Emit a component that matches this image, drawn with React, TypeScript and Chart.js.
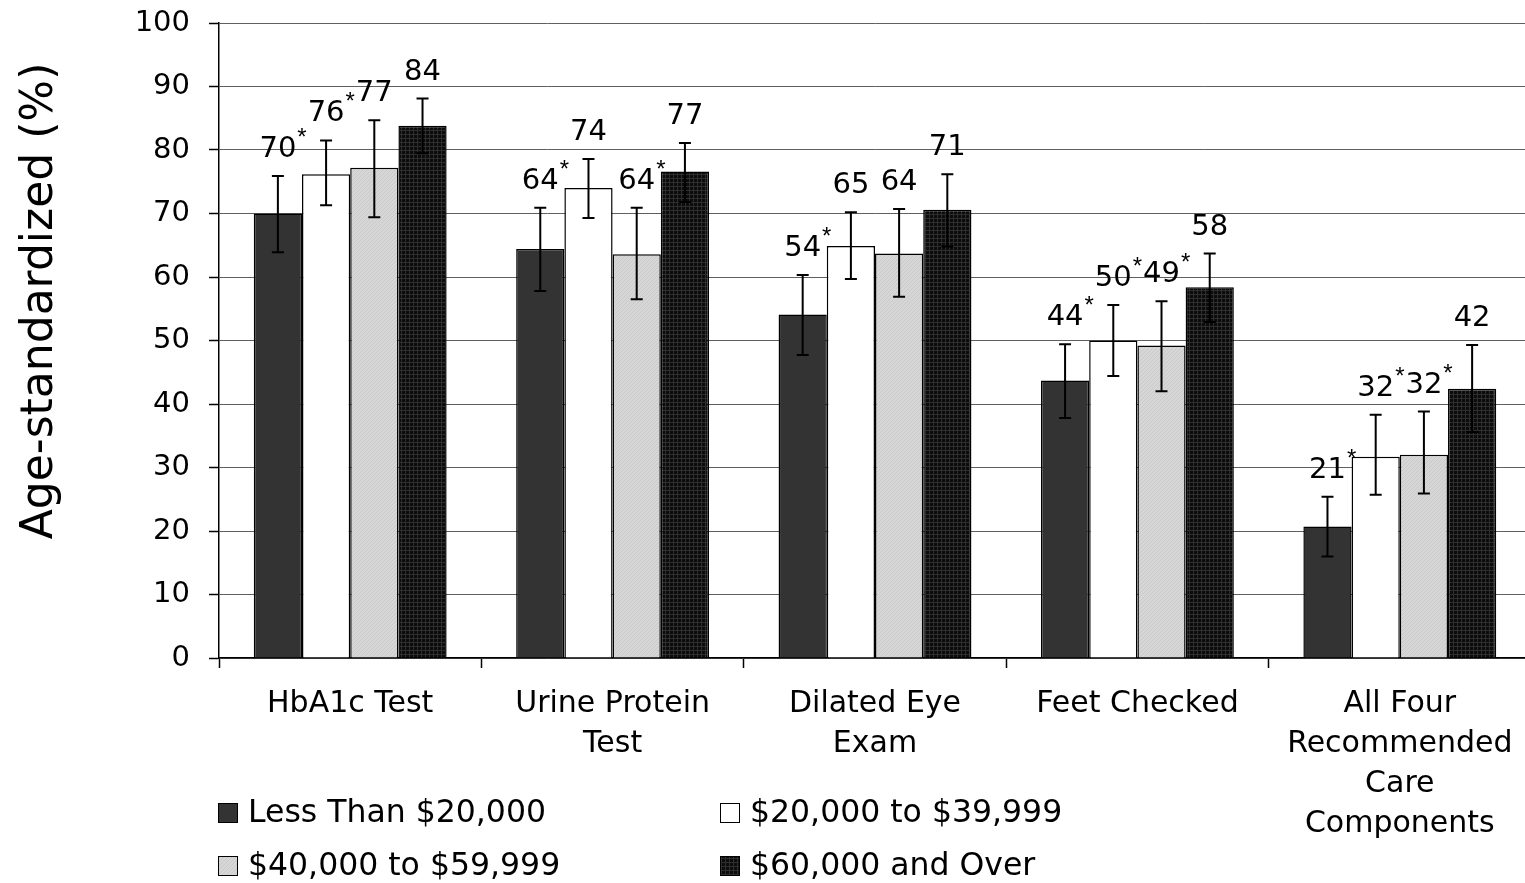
import { useEffect, useRef } from 'react';
import { Chart, registerables } from 'chart.js';

Chart.register(...registerables);

const FONT = "'DejaVu Sans', 'Liberation Sans', Arial, sans-serif";

const categories = [
  ['HbA1c Test'],
  ['Urine Protein', 'Test'],
  ['Dilated Eye', 'Exam'],
  ['Feet Checked'],
  ['All Four', 'Recommended', 'Care', 'Components'],
];

const seriesNames = ['Less Than $20,000', '$20,000 to $39,999', '$40,000 to $59,999', '$60,000 and Over'];

const under20k = [70.0, 64.4, 54.1, 43.7, 20.7];
const under20kLow = [63.9, 57.8, 47.7, 37.8, 16.0];
const under20kHigh = [75.9, 70.9, 60.3, 49.4, 25.4];
const under20kStar = [true, true, true, true, true];

const from20k = [76.2, 74.0, 64.9, 50.0, 31.7];
const from20kLow = [71.3, 69.3, 59.7, 44.4, 25.7];
const from20kHigh = [81.5, 78.6, 70.2, 55.6, 38.3];
const from20kStar = [true, false, false, true, true];

const from40k = [77.2, 63.6, 63.7, 49.2, 32.0];
const from40kLow = [69.4, 56.5, 56.9, 42.0, 25.9];
const from40kHigh = [84.7, 70.9, 70.7, 56.2, 38.8];
const from40kStar = [false, true, false, true, true];

const over60k = [83.8, 76.6, 70.6, 58.4, 42.4];
const over60kLow = [79.5, 71.8, 64.8, 52.9, 35.6];
const over60kHigh = [88.1, 81.1, 76.2, 63.7, 49.3];
const over60kStar = [false, false, false, false, false];

const yTicks = [0, 10, 20, 30, 40, 50, 60, 70, 80, 90, 100];

const values = [under20k, from20k, from40k, over60k];
const lows = [under20kLow, from20kLow, from40kLow, over60kLow];
const highs = [under20kHigh, from20kHigh, from40kHigh, over60kHigh];
const stars = [under20kStar, from20kStar, from40kStar, over60kStar];

function makePattern(size: number, base: string, dot: string, fn: (i: number, j: number) => boolean) {
  const c = document.createElement('canvas');
  c.width = size;
  c.height = size;
  const x = c.getContext('2d')!;
  x.fillStyle = base;
  x.fillRect(0, 0, size, size);
  x.fillStyle = dot;
  for (let i = 0; i < size; i++) {
    for (let j = 0; j < size; j++) {
      if (fn(i, j)) x.fillRect(i, j, 1, 1);
    }
  }
  return x.createPattern(c, 'repeat')!;
}

const annotPlugin = {
  id: 'annot',
  afterDatasetsDraw(chart: any) {
    const { ctx } = chart;
    const y = chart.scales.y;
    ctx.save();
    chart.data.datasets.forEach((_ds: any, di: number) => {
      const meta = chart.getDatasetMeta(di);
      meta.data.forEach((el: any, i: number) => {
        const hi = y.getPixelForValue(highs[di][i]);
        const lo = y.getPixelForValue(lows[di][i]);
        ctx.strokeStyle = '#000';
        ctx.lineWidth = 2;
        ctx.beginPath();
        ctx.moveTo(el.x, hi);
        ctx.lineTo(el.x, lo);
        ctx.moveTo(el.x - 6, hi);
        ctx.lineTo(el.x + 6, hi);
        ctx.moveTo(el.x - 6, lo);
        ctx.lineTo(el.x + 6, lo);
        ctx.stroke();
        ctx.fillStyle = '#000';
        ctx.font = `29px ${FONT}`;
        ctx.textAlign = 'center';
        ctx.textBaseline = 'alphabetic';
        ctx.fillText(String(Math.round(values[di][i])), el.x, hi - 19);
        if (stars[di][i]) {
          ctx.font = `24px 'Liberation Sans', Arial, sans-serif`;
          ctx.fillText('*', el.x + el.width / 2, hi - 45 + 14);
        }
      });
    });
    ctx.restore();
  },
  afterDraw(chart: any) {
    const { ctx, chartArea } = chart;
    ctx.save();
    // y-axis title
    ctx.fillStyle = '#000';
    ctx.font = `44px ${FONT}`;
    ctx.translate(52, chartArea.top + 278);
    ctx.rotate(-Math.PI / 2);
    ctx.textAlign = 'center';
    ctx.textBaseline = 'alphabetic';
    ctx.fillText('Age-standardized (%)', 0, 0);
    ctx.restore();

    // legend
    ctx.save();
    ctx.font = `31.5px ${FONT}`;
    ctx.textAlign = 'left';
    ctx.textBaseline = 'middle';
    const x0 = chartArea.left - 1;
    const colGap = 502;
    const rowY = [chartArea.bottom + 155, chartArea.bottom + 208];
    chart.data.datasets.forEach((ds: any, di: number) => {
      const bx = x0 + (di % 2) * colGap;
      const by = rowY[Math.floor(di / 2)];
      ctx.fillStyle = ds.backgroundColor;
      ctx.fillRect(bx, by - 10, 20, 20);
      ctx.strokeStyle = '#000';
      ctx.lineWidth = 1;
      ctx.strokeRect(bx + 0.5, by - 9.5, 19, 19);
      ctx.fillStyle = '#000';
      ctx.fillText(ds.label, bx + 30, by + 1);
    });
    ctx.restore();
  },
};

export default function App() {
  const ref = useRef<HTMLCanvasElement>(null);

  useEffect(() => {
    document.body.style.margin = '0';
    const canvas = ref.current!;
    const lightPat = makePattern(4, '#d6d6d6', '#cacaca', (i, j) => (i + j) % 4 === 0);
    const darkPat = makePattern(4, '#0c0c0c', '#2e2e2e', (i, j) => i % 4 === 1 || j % 4 === 2);
    const fills: any[] = ['#333333', '#ffffff', lightPat, darkPat];

    Chart.defaults.color = '#000';
    Chart.defaults.font.family = FONT;

    const chart = new Chart(canvas, {
      type: 'bar',
      data: {
        labels: categories,
        datasets: seriesNames.map((name, di) => ({
          label: name,
          data: values[di],
          backgroundColor: fills[di],
          borderColor: '#000',
          borderWidth: 1.5,
          borderSkipped: 'bottom',
          categoryPercentage: 0.735,
          barPercentage: 1.0,
        })),
      },
      options: {
        responsive: false,
        animation: false,
        devicePixelRatio: 1,
        layout: { padding: { top: 23, right: 14, left: 0, bottom: 0 } },
        plugins: {
          legend: { display: false },
          tooltip: { enabled: false },
        },
        scales: {
          x: {
            type: 'category',
            offset: true,
            grid: {
              offset: true,
              drawOnChartArea: false,
              drawTicks: true,
              tickLength: 10,
              tickColor: '#000',
              tickWidth: 1.5,
            },
            border: { color: '#000', width: 1.5 },
            ticks: {
              color: '#000',
              padding: 16,
              maxRotation: 0,
              autoSkip: false,
              font: { family: FONT, size: 30, lineHeight: 40 / 30 },
            },
            afterFit(scale: any) {
              scale.height = 225;
              scale.paddingLeft = 0;
              scale.paddingRight = 0;
            },
          },
          y: {
            min: 0,
            max: 100,
            afterBuildTicks(scale: any) {
              scale.ticks = yTicks.map((v) => ({ value: v }));
            },
            grid: {
              color: '#606060',
              lineWidth: 1,
              tickLength: 10,
              tickColor: '#000',
              tickWidth: 1.5,
            },
            border: { color: '#000', width: 1.5 },
            ticks: {
              color: '#000',
              padding: 19,
              font: { family: FONT, size: 29 },
            },
            afterFit(scale: any) {
              scale.width = 219;
              scale.paddingTop = 0;
              scale.paddingBottom = 0;
            },
          },
        },
      },
      plugins: [annotPlugin],
    });

    return () => chart.destroy();
  }, []);

  return (
    <div style={{ width: 1525, height: 883, overflow: 'hidden', position: 'relative' }}>
      <canvas ref={ref} width={1545} height={883} style={{ display: 'block', width: 1545, height: 883 }} />
    </div>
  );
}
